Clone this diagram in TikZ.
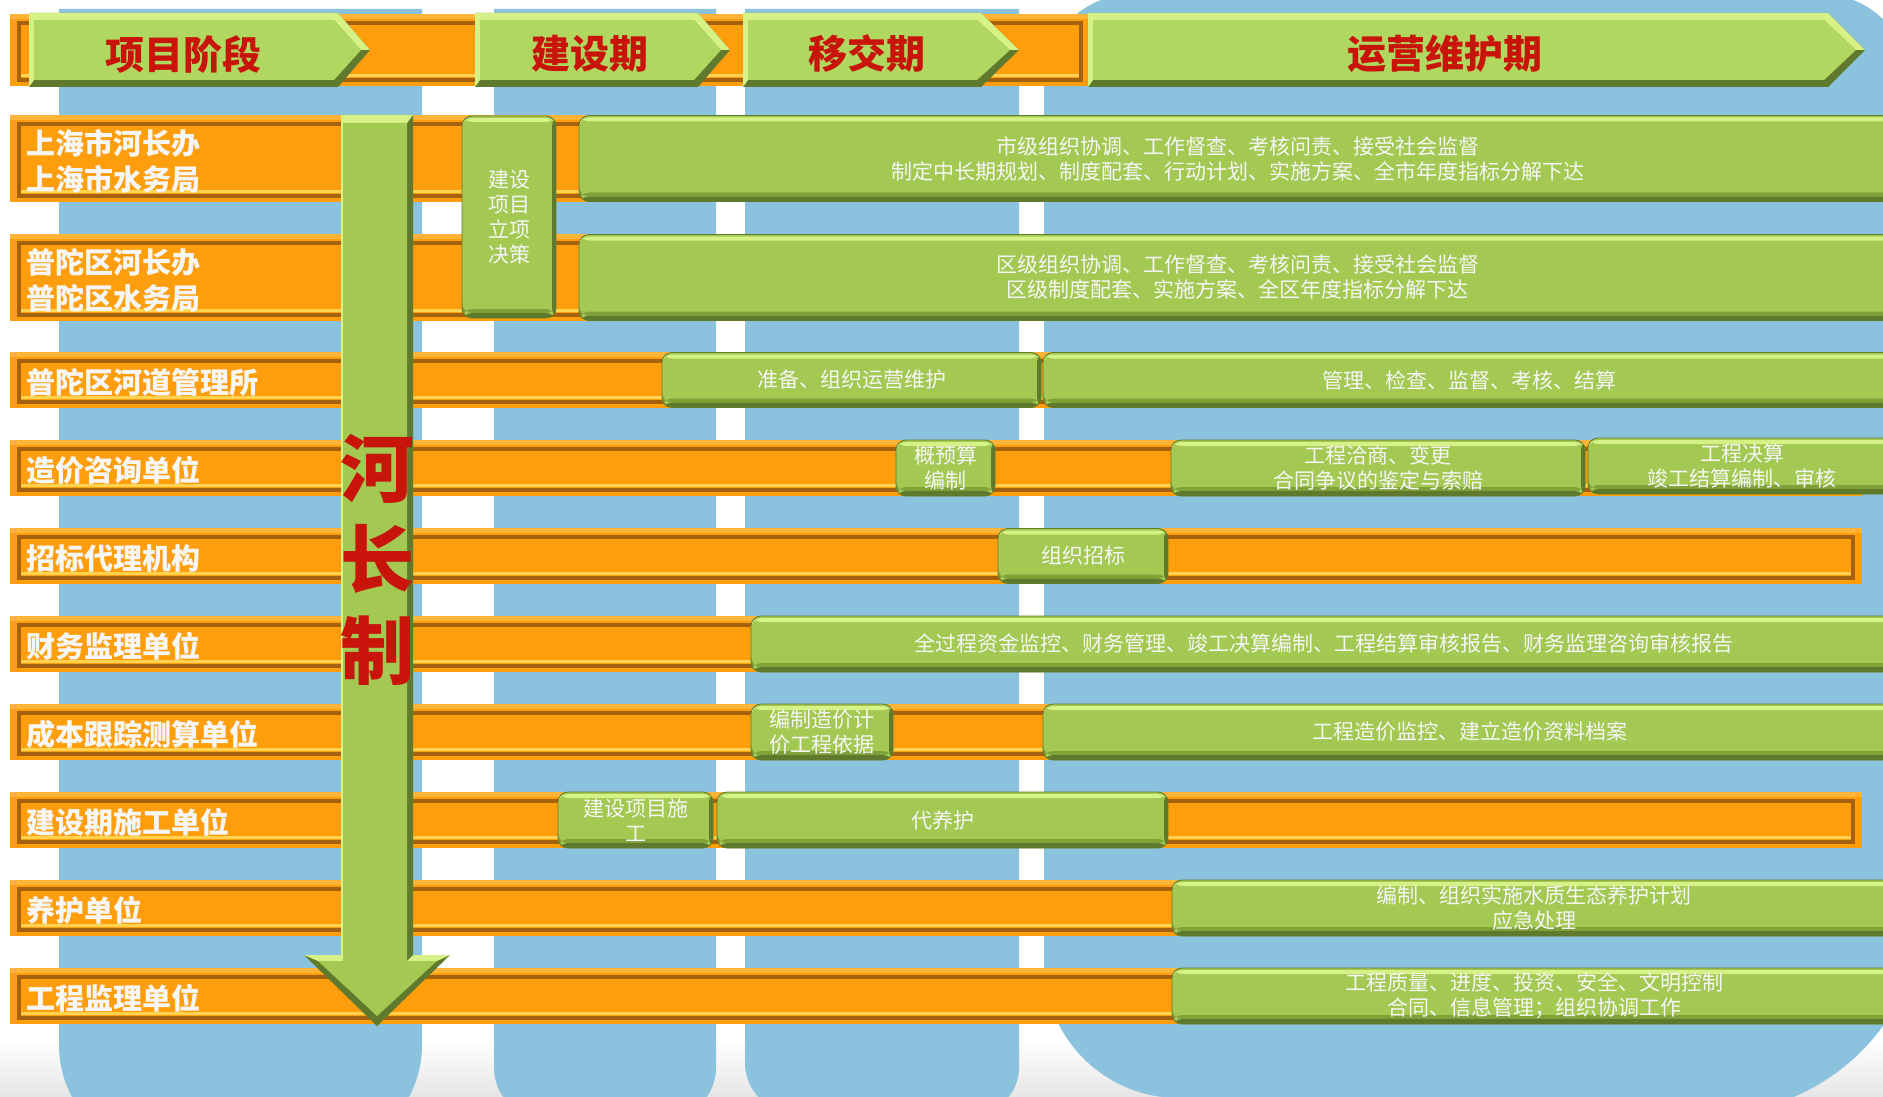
\documentclass[tikz,border=0pt]{standalone}
\usepackage{fontspec}
\setmainfont{Noto Sans CJK SC}
\definecolor{blu}{RGB}{139,194,222}
\definecolor{org}{RGB}{255,158,12}
\definecolor{orgdk}{RGB}{165,98,12}
\definecolor{orglt}{RGB}{255,180,55}
\definecolor{orgyl}{RGB}{255,210,80}
\definecolor{grn}{RGB}{163,201,82}
\definecolor{grnch}{RGB}{176,215,96}
\definecolor{grnhi}{RGB}{214,242,135}
\definecolor{grnmd}{RGB}{128,160,58}
\definecolor{grnlo}{RGB}{96,122,45}
\definecolor{hdred}{RGB}{200,20,10}
\definecolor{txtw}{RGB}{246,246,246}

\begin{document}
\begin{tikzpicture}[x=1pt, y=-1pt, every node/.style={inner sep=0pt},
	obar/.style={fill=org, minimum width=1852, path picture={
		\fill[orglt] (path picture bounding box.north west) rectangle ([yshift=-5pt]path picture bounding box.north east);
		\draw[orgdk, line width=3.5pt] ([shift={(9pt,-9pt)}]path picture bounding box.north west) rectangle ([shift={(-9pt,6pt)}]path picture bounding box.south east);
		\draw[orgyl, line width=3pt] ([shift={(11pt,10.5pt)}]path picture bounding box.south west) -- ([shift={(-11pt,10.5pt)}]path picture bounding box.south east);}},
	gbox/.style={fill=grn, draw=grnlo, line width=0.8pt, rounded corners=10pt, align=center, text=txtw, font=\fontsize{21}{25}\selectfont, path picture={
		\fill[grnhi] ([yshift=-2pt]path picture bounding box.north west) rectangle ([yshift=-6pt]path picture bounding box.north east);
		\fill[grnmd] ([yshift=9pt]path picture bounding box.south west) rectangle ([yshift=5pt]path picture bounding box.south east);
		\fill[grnlo] ([yshift=5pt]path picture bounding box.south west) rectangle (path picture bounding box.south east);
		\fill[grnlo] ([xshift=-4pt]path picture bounding box.north east) rectangle (path picture bounding box.south east);}},
	lab/.style={anchor=west, align=left, text=txtw, font=\fontsize{29}{36}\selectfont\bfseries},
	hdr/.style={text=hdred, font=\fontsize{39}{40}\selectfont\bfseries}]
	\useasboundingbox (0,0) rectangle (1883,1097);
	\clip (0,0) rectangle (1883,1097);
	\fill[white] (0,0) rectangle (1883,1097);
	\shade[top color=white, bottom color=black!10] (0,1040) rectangle (1883,1097);
	% stage columns
	\fill[blu] (59,9) -- (422,9) -- (422,1045) arc[start angle=0, end angle=-90, radius=110pt] -- (169,1155) arc[start angle=-90, end angle=-180, radius=110pt] -- cycle;
	\fill[blu] (494,9) -- (716,9) -- (716,1068) arc[start angle=0, end angle=-90, radius=50pt] -- (544,1118) arc[start angle=-90, end angle=-180, radius=50pt] -- cycle;
	\fill[blu] (745,9) -- (1019,9) -- (1019,1068) arc[start angle=0, end angle=-90, radius=45pt] -- (795,1113) arc[start angle=-90, end angle=-180, radius=50pt] -- cycle;
	\fill[blu] (1044,963) -- (1044,83) arc[start angle=180, end angle=90, radius=89pt] -- (1821,-6) arc[start angle=90, end angle=0, radius=89pt] -- (1924,900) arc[start angle=0, end angle=-90, radius=214pt] -- (1179,1098) arc[start angle=-90, end angle=-180, radius=135pt] -- cycle;
	% header
	\node[obar, minimum width=1080, minimum height=72] (hband) at (550,50) {};
	\foreach \nm/\a/\b/\c/\m/\txt in {1/29/338/370/183/项目阶段, 2/475/698/730/590/建设期, 3/743/981/1019/867/移交期, 4/1088/1828/1865/1445/运营维护期} {
		\fill[grnlo] (\a,13) -- (\b,13) -- (\c,50) -- (\b,87) -- (\a,87) -- cycle;
		\fill[grnhi] (\a,87) -- (\a,13) -- (\b,13) -- (\c,50) -- ({\c-9},50) -- ({\b-4},20) -- ({\a+5},20) -- ({\a+5},80) -- cycle;
		\fill[grnch] ({\a+5},20) -- ({\b-4},20) -- ({\c-9},50) -- ({\b-4},80) -- ({\a+5},80) -- cycle;
		\node[hdr] (hd\nm) at (\m,54) {\txt};
	}
	% rows
	\foreach \nm/\y/\h in {1/158.5/87, 2/277.5/87, 3/380/56, 4/468/56, 5/556/56, 6/644/56, 7/732/56, 8/820/56, 9/908/56, 10/996/56}
		\node[obar, minimum height=\h] (bar\nm) at (936,\y) {};
	\foreach \nm/\y/\txt in {1/161/{上海市河长办\\上海市水务局}, 2/280/{普陀区河长办\\普陀区水务局}, 3/382/普陀区河道管理所, 4/470/造价咨询单位, 5/558/招标代理机构, 6/646/财务监理单位, 7/734/成本跟踪测算单位, 8/822/建设期施工单位, 9/910/养护单位, 10/998/工程监理单位}
		\node[lab] (lab\nm) at (26,\y) {\txt};
	% tasks
	\foreach \nm/\a/\b/\y/\h/\txt in {
		g1/579/1896/158.5/86/{市级组织协调、工作督查、考核问责、接受社会监督\\制定中长期规划、制度配套、行动计划、实施方案、全市年度指标分解下达},
		g2/579/1896/277.5/86/{区级组织协调、工作督查、考核问责、接受社会监督\\区级制度配套、实施方案、全区年度指标分解下达},
		gv/462/556/217/202/{建设\\项目\\立项\\决策},
		g3a/662/1041/380/55/{准备、组织运营维护},
		g3b/1043/1896/380/55/{管理、检查、监督、考核、结算},
		g4a/896/995/468/56/{概预算\\编制},
		g4b/1171/1585/468/56/{工程洽商、变更\\合同争议的鉴定与索赔},
		g4c/1588/1896/466/56/{工程决算\\竣工结算编制、审核},
		g5/998/1168/556/55/{组织招标},
		g6/751/1896/644/56/{全过程资金监控、财务管理、竣工决算编制、工程结算审核报告、财务监理咨询审核报告},
		g7a/751/893/732/56/{编制造价计\\价工程依据},
		g7b/1043/1896/732/56/{工程造价监控、建立造价资料档案},
		g8a/558/713/820/56/{建设项目施\\工},
		g8b/717/1168/820/56/{代养护},
		g9/1172/1896/908/56/{编制、组织实施水质生态养护计划\\应急处理},
		g10/1172/1896/996/56/{工程质量、进度、投资、安全、文明控制\\合同、信息管理；组织协调工作}}
		\node[gbox, minimum width={\b-\a}, minimum height=\h] (\nm) at ({(\a+\b)/2},\y) {\txt};
	% river chief arrow
	\fill[grnlo] (341,115) -- (413,115) -- (413,955) -- (450,955) -- (377,1026) -- (304,955) -- (341,955) -- cycle;
	\fill[grnhi] (341,115) -- (413,115) -- (407,123) -- (343,123) -- (343,961) -- (318,961) -- (304,955) -- (341,955) -- cycle;
	\fill[grnhi] (413,955) -- (450,955) -- (437,961) -- (407,961) -- cycle;
	\fill[grn] (343,123) -- (407,123) -- (407,961) -- (437,961) -- (377,1016) -- (318,961) -- (343,961) -- cycle;
	\node[text=hdred, align=center, font=\fontsize{74}{91}\selectfont\bfseries] (hzz) at (377,560) {河\\长\\制};
\end{tikzpicture}
\end{document}
